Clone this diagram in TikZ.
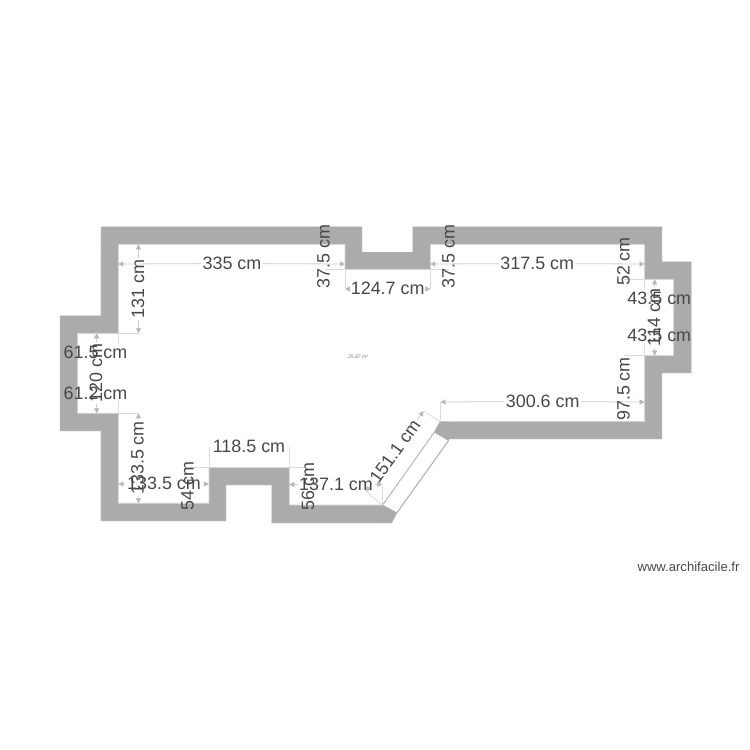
\documentclass[tikz,border=0pt]{standalone}
\usepackage{fontspec}
\setmainfont{Liberation Sans}
\usetikzlibrary{arrows.meta}
\definecolor{wallgray}{HTML}{ABABAB}
\definecolor{edgegray}{HTML}{D0D0D0}
\definecolor{dimgray}{HTML}{CFCFCF}
\definecolor{witgray}{HTML}{DADADA}
\definecolor{tipgray}{HTML}{B8B8B8}
\definecolor{txtgray}{HTML}{484848}
\tikzset{
  wallfill/.style={fill=wallgray,draw=edgegray,line width=.4bp},
  roomfill/.style={fill=white,draw=edgegray,line width=.8bp},
  windowline/.style={draw=wallgray,line width=.8bp},
  dimarrow/.style={draw=dimgray,line width=.8bp,-{Triangle[length=5bp,width=5bp,color=tipgray]}},
  witnessline/.style={draw=witgray,line width=.8bp},
  dimlabel/.style={font=\fontsize{17.9bp}{20bp}\selectfont,text=txtgray,inner sep=1.5bp,anchor=center},
  arealabel/.style={font=\fontsize{5bp}{6bp}\selectfont\itshape,text=txtgray!70,inner sep=0pt},
  creditlabel/.style={font=\fontsize{13.1bp}{15bp}\selectfont,text=txtgray,inner sep=0pt}
}
% name, start, end, label position, rotation, text
\newcommand{\dimmark}[6]{%
  \coordinate (#1a) at (#2);
  \coordinate (#1b) at (#3);
  \node[dimlabel,rotate=#5] (#1) at (#4) {#6};
  \draw[dimarrow] (#1) -- (#1a);
  \draw[dimarrow] (#1) -- (#1b);
}
\newcommand{\witness}[3]{%
  \coordinate (#1a) at (#2);
  \coordinate (#1b) at (#3);
  \draw[witnessline] (#1a) -- (#1b);
}
\begin{document}
\begin{tikzpicture}[x=1bp,y=-1bp]
\useasboundingbox (0,0) rectangle (750,750);
% walls
\path[wallfill] (101,226.5) -- (362,226.5) -- (362,252) -- (412.7,252) -- (412.7,226.5) -- (662,226.5)
  -- (662,261.7) -- (691.3,261.7) -- (691.3,373) -- (662,373) -- (662,439) -- (449,439)
  -- (397,512.5) -- (391.7,523) -- (271.7,523) -- (271.7,485) -- (226,485) -- (226,521)
  -- (100.8,521) -- (100.8,431) -- (60,431) -- (60,315.7) -- (100.8,315.7) -- cycle;
% room with the window opening
\path[roomfill] (118.3,244.3) -- (345,244.3) -- (345,269.3) -- (430.3,269.3) -- (430.3,244.3) -- (644.7,244.3)
  -- (644.7,279.3) -- (673.7,279.3) -- (673.7,355.7) -- (644.7,355.7) -- (644.7,421.5) -- (440,421.5)
  -- (434.3,432.3) -- (448.6,440.6) -- (397,512.7) -- (382.3,505) -- (289.3,505) -- (289.3,467.7)
  -- (209,467.7) -- (209,503.3) -- (118.3,503.3) -- (118.3,413.3) -- (77.5,413.3) -- (77.5,333.3)
  -- (118.3,333.3) -- cycle;
% window and wall ends
\draw[windowline] (434.3,432.3) -- (382.8,504.8);
\draw[windowline] (448.6,440.6) -- (397,512.7);
\fill[wallgray] (440,421.5) -- (449,421.5) -- (449,439) -- (448.6,440.6) -- (434.3,432.3) -- cycle;
\fill[wallgray] (382.3,505) -- (397,512.7) -- (391.7,522.8) -- (382.3,522.8) -- cycle;
% witness lines
\witness{w1}{118.3,333.3}{138.5,333.3}
\witness{w2}{118.3,413.3}{138.5,413.3}
\witness{w3}{118.3,333.3}{118.3,344}
\witness{w4}{118.3,413.3}{118.3,400}
\witness{w5}{325,269.3}{345,269.3}
\witness{w6}{345,269.3}{345,289}
\witness{w7}{430.3,269.3}{449,269.3}
\witness{w8}{430.3,269.3}{430.3,289}
\witness{w9}{624,279.3}{644.7,279.3}
\witness{w10}{644.7,279.3}{644.7,290}
\witness{w11}{644.7,355.7}{644.7,345}
\witness{w12}{624,355.7}{644.7,355.7}
\witness{w13}{440.5,421.5}{440.5,402}
\witness{w14}{440,421.5}{423.5,411}
\witness{w15}{382.3,505}{366,491.5}
\witness{w16}{382.3,505}{382.3,485}
\witness{w17}{289.3,467.7}{305,467.7}
\witness{w18}{289.3,467.7}{289.3,447}
\witness{w19}{209,467.7}{209,447}
\witness{w20}{190,467.7}{209,467.7}
% dimensions with visible lines
\dimmark{dA}{118.3,264}{345,264}{232,263.5}{0}{335 cm}
\dimmark{dB}{138.5,244.3}{138.5,333.3}{138,289}{90}{131 cm}
\dimmark{dC}{430.3,264}{644.7,264}{537.3,263.5}{0}{317.5 cm}
\dimmark{dD}{345,289}{430.3,289}{387.7,288.5}{0}{124.7 cm}
\dimmark{dE}{654.7,279.3}{654.7,355.7}{654,317.5}{90}{114 cm}
\dimmark{dF}{440.5,402}{644.7,402}{542.7,401.5}{0}{300.6 cm}
\dimmark{dG}{423.5,411}{366,491.5}{395,451.5}{54.4}{151.1 cm}
\dimmark{dH}{289.3,484.5}{382.3,484.5}{336,484}{0}{137.1 cm}
\dimmark{dI}{118.3,484}{209,484}{164,483.5}{0}{133.5 cm}
\dimmark{dJ}{138.5,413.3}{138.5,503.3}{137.5,458}{90}{133.5 cm}
\dimmark{dK}{96.7,333.3}{96.7,413.3}{96,373}{90}{120 cm}
% labels whose text covers their dimension line
\node[dimlabel] (dL) at (95.5,352) {61.5 cm};
\node[dimlabel] (dM) at (95.5,393) {61.2 cm};
\node[dimlabel,rotate=90] (dN) at (323.5,256.7) {37.5 cm};
\node[dimlabel,rotate=90] (dO) at (448.5,256.7) {37.5 cm};
\node[dimlabel,rotate=90] (dP) at (623.5,261.5) {52 cm};
\node[dimlabel,rotate=90] (dQ) at (623.5,389) {97.5 cm};
\node[dimlabel] (dR) at (659.3,298) {43.5 cm};
\node[dimlabel] (dS) at (659.3,335.5) {43.5 cm};
\node[dimlabel,rotate=90] (dT) at (187.5,486) {54 cm};
\node[dimlabel,rotate=90] (dU) at (308,486.5) {56 cm};
\node[dimlabel] (dV) at (249,446) {118.5 cm};
% area and credit
\node[arealabel] (area) at (358,356.7) {25.87 m²};
\node[creditlabel] (credit) at (688.5,567) {www.archifacile.fr};
\end{tikzpicture}
\end{document}
